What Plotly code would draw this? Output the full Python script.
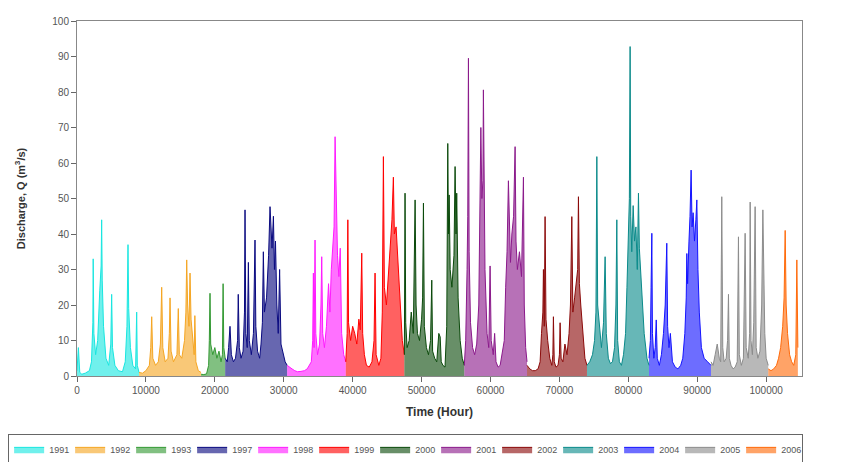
import plotly.graph_objects as go

years = ["1991", "1992", "1993", "1997", "1998", "1999", "2000", "2001", "2002", "2003", "2004", "2005", "2006"]
colors = ["#19E6E0", "#F5A623", "#339933", "#0A0A80", "#FF1AFF", "#FF0000", "#0B4A0B",
          "#8B1A8B", "#8B0A0A", "#0A8A8A", "#1414FF", "#8C8C8C", "#FF6A0A"]

h_1991 = [0, 200, 400, 700, 1200, 1800, 2100, 2300, 2350, 2450, 2700, 3000, 3300, 3500, 3580, 3660, 3850, 4200, 4600, 4900, 5030, 5150, 5500, 6000, 6600, 7000, 7250, 7400, 7500, 7750, 8100, 8500, 8660, 8750, 9000]
q_1991 = [1.5, 8, 1, 0.5, 0.8, 1.5, 4, 15, 33, 12, 6, 10, 24, 31, 44, 27, 14, 5, 3, 9, 23, 8, 3, 1.5, 1.2, 4, 14, 37, 19, 8, 3, 2, 18, 3, 1]

h_1992 = [9000, 9500, 10000, 10500, 10700, 10840, 11000, 11400, 11800, 12100, 12290, 12450, 12800, 13200, 13400, 13500, 13650, 14000, 14500, 14700, 14850, 15200, 15600, 15800, 15920, 16050, 16250, 16400, 16550, 16800, 17000, 17100, 17250, 17600, 18000]
q_1992 = [1, 0.8, 1.5, 3, 8, 16.7, 5, 3, 4, 9, 25, 8, 4, 5, 12, 22, 7, 4, 6, 19, 6, 5, 10, 18, 32.7, 20, 14, 29, 16, 9, 6, 17, 4, 1.5, 1]

h_1993 = [18000, 18400, 18800, 19100, 19200, 19300, 19400, 19700, 20000, 20300, 20600, 20900, 21100, 21200, 21300, 21500]
q_1993 = [0.5, 0.4, 0.6, 3, 10, 23.3, 9, 6, 8, 5, 7, 4, 6, 26, 8, 5]

h_1997 = [21500, 21800, 22000, 22200, 22400, 22700, 23000, 23300, 23400, 23550, 23800, 24100, 24300, 24380, 24500, 24700, 24870, 25000, 25300, 25600, 25830, 25950, 26200, 26500, 26700, 26900, 27040, 27200, 27500, 27800, 28010, 28150, 28300, 28500, 28650, 28800, 29000, 29200, 29400, 29600, 29900, 30200, 30500]
q_1997 = [5, 4, 8, 14, 6, 4, 5, 10, 23, 8, 5, 7, 18, 46.8, 12, 8, 32, 10, 6, 12, 38.3, 14, 7, 5, 9, 15, 35, 18, 22, 34, 47.7, 40, 36, 45, 30, 38, 20, 12, 30, 9, 6, 4, 3]

h_1998 = [30500, 30800, 31200, 31600, 32000, 32500, 33000, 33400, 33700, 34000, 34200, 34300, 34400, 34540, 34650, 34900, 35200, 35400, 35510, 35650, 35900, 36200, 36500, 36700, 36900, 37100, 37300, 37450, 37550, 37650, 37800, 38000, 38200, 38400, 38700, 39000]
q_1998 = [3, 2.5, 2, 1.5, 1.2, 1.3, 1.5, 2, 3, 4, 10, 29, 8, 38.3, 12, 6, 9, 20, 33.6, 12, 8, 14, 26, 18, 30, 36, 42, 67.4, 56, 40, 34, 28, 36, 12, 6, 4]

h_1999 = [39000, 39200, 39300, 39400, 39700, 40000, 40300, 40600, 40900, 41100, 41320, 41450, 41700, 42000, 42400, 42800, 43100, 43250, 43400, 43800, 44100, 44300, 44460, 44600, 44900, 45200, 45500, 45700, 45910, 46050, 46300, 46600, 46900, 47200, 47500]
q_1999 = [4, 12, 44, 15, 10, 14, 12, 9, 16, 13, 34.6, 12, 6, 3, 2.5, 4, 10, 29, 6, 3, 5, 18, 61.8, 25, 20, 30, 38, 44, 56, 40, 42, 30, 20, 10, 6]

h_2000 = [47500, 47600, 47700, 47900, 48200, 48500, 48800, 48950, 49060, 49200, 49400, 49700, 50000, 50150, 50270, 50400, 50700, 51000, 51300, 51480, 51600, 51900, 52200, 52500, 52700, 52850, 53100, 53400, 53650, 53800, 53900, 54000, 54150, 54400, 54700, 54860, 55000, 55100, 55300, 55600, 55900, 56200]
q_2000 = [6, 51.5, 15, 8, 10, 18, 12, 35, 49.6, 20, 12, 10, 16, 22, 48.7, 14, 8, 6, 10, 27, 7, 5, 4, 12, 11, 4, 3, 2.5, 14, 65.5, 40, 51, 30, 25, 34, 59, 40, 51.5, 22, 10, 5, 3]

h_2001 = [56200, 56400, 56600, 56700, 56800, 56900, 57100, 57400, 57700, 58000, 58300, 58500, 58600, 58750, 58900, 58970, 59050, 59200, 59500, 59750, 59940, 60100, 60400, 60600, 60800, 61100, 61400, 61700, 62000, 62200, 62400, 62600, 62750, 62900, 63100, 63350, 63570, 63700, 63900, 64200, 64500, 64780, 64900, 65100, 65300]
q_2001 = [3, 10, 30, 45, 89.5, 35, 15, 8, 6, 9, 20, 45, 70, 50, 55, 80.6, 48, 30, 12, 8, 31, 10, 6, 12, 4, 2.5, 3, 6, 10, 25, 35, 55, 38, 32, 40, 45, 64.6, 38, 30, 35, 28, 56, 20, 8, 4]

h_2002 = [65300, 65700, 66100, 66500, 66900, 67200, 67400, 67600, 67680, 67800, 67920, 68050, 68300, 68600, 68900, 69050, 69130, 69250, 69500, 69800, 70000, 70100, 70250, 70500, 70800, 71100, 71400, 71600, 71800, 71950, 72200, 72500, 72650, 72760, 72900, 73100, 73400, 73700, 74000]
q_2002 = [3, 2, 1.5, 1.5, 2, 4, 12, 18, 30, 14, 44.9, 16, 10, 5, 3, 6, 16.7, 4, 2.5, 3, 6, 15, 5, 4, 9, 6, 12, 20, 44.9, 18, 22, 28, 30, 50.5, 26, 20, 12, 5, 3]

h_2003 = [74000, 74400, 74800, 75100, 75300, 75430, 75550, 75800, 76100, 76400, 76630, 76800, 77100, 77400, 77700, 78000, 78200, 78330, 78450, 78700, 79000, 79300, 79600, 79800, 80000, 80150, 80260, 80350, 80500, 80700, 80900, 81100, 81300, 81470, 81600, 81800, 82000, 82300, 82700, 83000]
q_2003 = [3, 4, 6, 10, 18, 61.8, 20, 14, 8, 15, 33.6, 12, 5, 3.5, 4, 8, 20, 44, 10, 4, 3, 6, 12, 25, 40, 50, 92.8, 45, 35, 48, 38, 42, 30, 51.5, 36, 30, 22, 12, 5, 3]

h_2004 = [83000, 83200, 83300, 83410, 83500, 83700, 83900, 84050, 84200, 84500, 84800, 85100, 85350, 85580, 85700, 85900, 86100, 86400, 86800, 87200, 87600, 87900, 88200, 88400, 88490, 88600, 88800, 88950, 89110, 89250, 89400, 89600, 89800, 89940, 90100, 90300, 90600, 91000, 91500, 92000]
q_2004 = [5, 10, 25, 40.2, 12, 5, 8, 15.8, 5, 3, 6, 12, 20, 37.4, 14, 8, 12, 4, 2.5, 2, 3, 5, 12, 22, 34.5, 26, 38, 45, 58, 42, 46, 38, 44, 49.6, 30, 18, 8, 5, 4, 3]

h_2005 = [92000, 92300, 92600, 92900, 93200, 93400, 93560, 93700, 93900, 94200, 94400, 94530, 94650, 94900, 95200, 95500, 95800, 95980, 96100, 96400, 96700, 96950, 97100, 97400, 97600, 97680, 97800, 98000, 98200, 98400, 98550, 98800, 99100, 99350, 99520, 99650, 99800, 100000, 100300]
q_2005 = [4, 3, 6, 9, 5, 4, 50.5, 8, 4, 5, 10, 23, 5, 3, 2, 2.5, 4, 39.2, 6, 3, 5, 40.2, 8, 5, 12, 49, 10, 6, 15, 47.7, 8, 5, 7, 20, 46.8, 30, 12, 5, 3]

h_2006 = [100300, 100700, 101100, 101500, 101800, 102100, 102400, 102600, 102760, 102900, 103100, 103400, 103700, 104000, 104300, 104450, 104600]
q_2006 = [2, 1.5, 2, 3, 5, 8, 14, 22, 41, 20, 12, 6, 4, 3, 6, 32.7, 8]

hours = [h_1991, h_1992, h_1993, h_1997, h_1998, h_1999, h_2000, h_2001, h_2002, h_2003, h_2004, h_2005, h_2006]
flows = [q_1991, q_1992, q_1993, q_1997, q_1998, q_1999, q_2000, q_2001, q_2002, q_2003, q_2004, q_2005, q_2006]

x_ticks = [0, 10000, 20000, 30000, 40000, 50000, 60000, 70000, 80000, 90000, 100000]
y_ticks = [0, 10, 20, 30, 40, 50, 60, 70, 80, 90, 100]


def rgba(hexc, a):
    hexc = hexc.lstrip("#")
    r, g, b = int(hexc[0:2], 16), int(hexc[2:4], 16), int(hexc[4:6], 16)
    return f"rgba({r},{g},{b},{a})"


fig = go.Figure()
for yr, col, hx, qy in zip(years, colors, hours, flows):
    fig.add_trace(go.Scatter(
        x=hx, y=qy, name=yr, mode="lines",
        line=dict(color=col, width=1),
        fill="tozeroy", fillcolor=rgba(col, 0.62),
    ))

fig.update_layout(
    width=863, height=462,
    margin=dict(l=77, r=61, t=21, b=86, autoexpand=False),
    paper_bgcolor="white", plot_bgcolor="white",
    font=dict(family="Liberation Sans, Arial, sans-serif", size=10, color="#555555"),
    showlegend=True,
    legend=dict(
        orientation="h",
        xref="paper", yref="paper",
        x=-0.095, xanchor="left", y=-0.163, yanchor="top",
        bordercolor="#666666", borderwidth=1,
        font=dict(size=9, color="#555555"),
        itemwidth=30, entrywidth=16, entrywidthmode="pixels",
        tracegroupgap=0, traceorder="normal",
    ),
    xaxis=dict(
        range=[0, 105200], tickvals=x_ticks, ticktext=[str(v) for v in x_ticks],
        showgrid=False, zeroline=False, automargin=False,
        showline=True, linecolor="#888888", linewidth=1, mirror=True,
        ticks="outside", ticklen=5, tickcolor="#666666",
        tickfont=dict(size=10, color="#555555"),
        title=dict(text="<b>Time (Hour)</b>", font=dict(size=12, color="#333333"), standoff=12),
    ),
    yaxis=dict(
        range=[0, 100], tickvals=y_ticks, ticktext=[str(v) for v in y_ticks],
        showgrid=False, zeroline=False, automargin=False,
        showline=True, linecolor="#888888", linewidth=1, mirror=True,
        ticks="outside", ticklen=5, tickcolor="#666666",
        tickfont=dict(size=10, color="#555555"),
        title=dict(text="<b>Discharge, Q (m<sup>3</sup>/s)</b>", font=dict(size=11, color="#333333"), standoff=24),
    ),
)

fig.write_html("out.html", config={"displayModeBar": False},
               post_script="document.body.style.margin='0';document.body.style.padding='0';")
